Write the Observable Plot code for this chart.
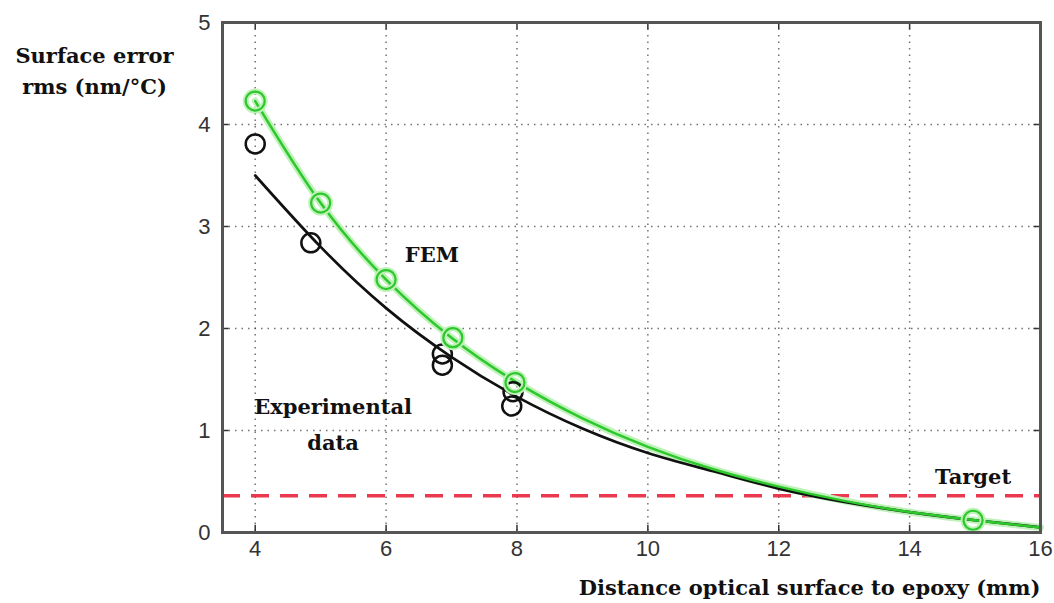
<!DOCTYPE html>
<html>
<head>
<meta charset="utf-8">
<script src="https://cdn.jsdelivr.net/npm/d3@7"></script>
<script src="https://cdn.jsdelivr.net/npm/@observablehq/plot@0.6"></script>
<style>
  html, body { margin: 0; padding: 0; background: #fff; }
  #chart svg { display: block; }
</style>
</head>
<body>
<div id="chart"></div>
<script>
// ---- data ----
const xTicks = [4, 6, 8, 10, 12, 14, 16];
const yTicks = [0, 1, 2, 3, 4, 5];
const target = 0.36;

// FEM simulation points (green circles)
const femX = [4, 5, 6, 7.02, 7.97, 14.97];
const femY = [4.23, 3.23, 2.48, 1.91, 1.47, 0.12];

// Experimental data points (black circles)
const expX = [4, 4.85, 6.86, 6.86, 7.92, 7.94];
const expY = [3.81, 2.84, 1.75, 1.64, 1.24, 1.38];

// Curves
const curveX = [4, 5, 6, 7, 8, 9, 10, 11, 12, 13, 14, 15, 16];
const fitY = [3.5, 2.8, 2.2, 1.72, 1.33, 1.02, 0.78, 0.6, 0.43, 0.3, 0.2, 0.12, 0.05];
const femCurveY = [4.23, 3.23, 2.48, 1.91, 1.47, 1.12, 0.84, 0.62, 0.45, 0.31, 0.2, 0.12, 0.05];

// Annotations
const noteText = ["FEM", "Experimental\ndata", "Target"];
const noteX = [6.7, 5.19, 14.97];
const noteY = [2.76, 1.1, 0.59];

const yTitle = "Surface error\nrms (nm/°C)";
const xTitle = "Distance optical surface to epoxy (mm)";

// ---- build tables ----
const fem = femX.map((x, i) => ({x, y: femY[i]}));
const exp = expX.map((x, i) => ({x, y: expY[i]}));
const fit = curveX.map((x, i) => ({x, y: fitY[i]}));
const femCurve = curveX.map((x, i) => ({x, y: femCurveY[i]}));
const notes = noteText.map((t, i) => ({t, x: noteX[i], y: noteY[i]}));

const serif = "'DejaVu Serif', 'Liberation Serif', serif";
const green = "#2cc82c";
const halo = "#bff2b8";

const chart = Plot.plot({
  width: 1054,
  height: 603,
  marginLeft: 222,
  marginRight: 14,
  marginTop: 22,
  marginBottom: 71,
  style: {background: "#fff", fontFamily: "'Liberation Sans', Arial, sans-serif"},
  x: {domain: [3.5, 16]},
  y: {domain: [0, 5]},
  marks: [
    Plot.gridX(xTicks.slice(0, -1), {stroke: "#444", strokeOpacity: 0.75, strokeWidth: 1.5, strokeDasharray: "1.5,5"}),
    Plot.gridY(yTicks.slice(1, -1), {stroke: "#444", strokeOpacity: 0.75, strokeWidth: 1.5, strokeDasharray: "1.5,5"}),
    Plot.ruleY([target], {stroke: "#e8243c", strokeWidth: 3.5, strokeDasharray: "18,11", strokeOpacity: 0.9}),
    // inward ticks
    Plot.ruleX(xTicks, {y1: 0, y2: 0.07, stroke: "#333", strokeWidth: 1.5}),
    Plot.ruleX(xTicks, {y1: 4.93, y2: 5, stroke: "#333", strokeWidth: 1.5}),
    Plot.ruleY(yTicks, {x1: 3.5, x2: 3.6, stroke: "#333", strokeWidth: 1.5}),
    Plot.ruleY(yTicks, {x1: 15.9, x2: 16, stroke: "#333", strokeWidth: 1.5}),
    // curves
    Plot.line(femCurve, {x: "x", y: "y", curve: "natural", stroke: halo, strokeWidth: 7}),
    Plot.line(fit, {x: "x", y: "y", curve: "natural", stroke: "#111", strokeWidth: 2.7}),
    Plot.line(femCurve, {x: "x", y: "y", curve: "natural", stroke: green, strokeWidth: 2.5}),
    // points
    Plot.dot(exp, {x: "x", y: "y", r: 9.5, stroke: "#111", strokeWidth: 2.5, fill: "none"}),
    Plot.dot(fem, {x: "x", y: "y", r: 9.5, stroke: halo, strokeWidth: 6, fill: "none"}),
    Plot.dot(fem, {x: "x", y: "y", r: 9.5, stroke: green, strokeWidth: 2.2, fill: "none"}),
    // frame
    Plot.frame({stroke: "#555", strokeWidth: 3}),
    // axes
    Plot.axisX(xTicks, {tickSize: 0, tickPadding: 8, fontSize: 22, fill: "#333", label: null, tickFormat: d3.format("d")}),
    Plot.axisY(yTicks, {tickSize: 0, tickPadding: 12, fontSize: 22, fill: "#333", label: null, tickFormat: d3.format("d")}),
    // annotations
    Plot.text(notes, {x: "x", y: "y", text: "t", textAnchor: "middle", fontFamily: serif, fontWeight: "bold", fontSize: 21, lineHeight: 1.7, fill: "#111"}),
    Plot.text([yTitle], {frameAnchor: "top-left", dx: -128, dy: 46, textAnchor: "middle", lineAnchor: "middle", fontFamily: serif, fontWeight: "bold", fontSize: 21, lineHeight: 1.5, fill: "#111"}),
    Plot.text([xTitle], {frameAnchor: "bottom-right", dx: 0, dy: 56, textAnchor: "end", lineAnchor: "middle", fontFamily: serif, fontWeight: "bold", fontSize: 21, fill: "#111"})
  ]
});
document.getElementById("chart").append(chart);
</script>
</body>
</html>
